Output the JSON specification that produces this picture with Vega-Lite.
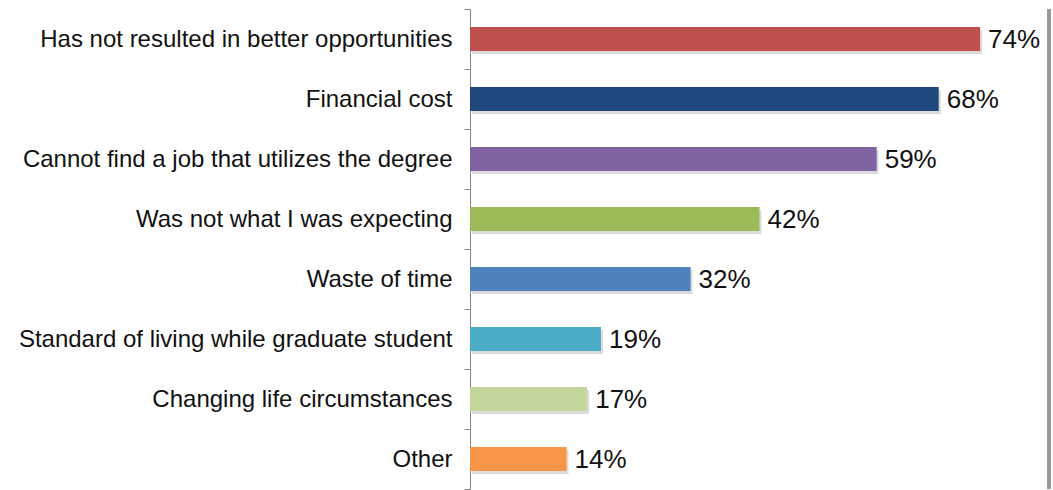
{
  "$schema": "https://vega.github.io/schema/vega-lite/v6.json",
  "autosize": {"type": "none"},
  "padding": {"left": 470, "top": 9, "right": 4, "bottom": 1},
  "width": 579,
  "height": 480,
  "background": "#ffffff",
  "config": {"view": {"stroke": null}},
  "data": {
    "values": [
      {"reason": "Has not resulted in better opportunities", "pct": 0.74},
      {"reason": "Financial cost", "pct": 0.68},
      {"reason": "Cannot find a job that utilizes the degree", "pct": 0.59},
      {"reason": "Was not what I was expecting", "pct": 0.42},
      {"reason": "Waste of time", "pct": 0.32},
      {"reason": "Standard of living while graduate student", "pct": 0.19},
      {"reason": "Changing life circumstances", "pct": 0.17},
      {"reason": "Other", "pct": 0.14}
    ]
  },
  "encoding": {
    "y": {
      "field": "reason",
      "type": "nominal",
      "sort": null,
      "scale": {"paddingInner": 0, "paddingOuter": 0},
      "axis": {
        "title": null,
        "labelFont": "Liberation Sans",
        "labelFontSize": 24,
        "labelColor": "#111111",
        "labelPadding": 12,
        "labelLimit": 0,
        "tickSize": 6,
        "tickColor": "#868686",
        "domainColor": "#868686",
        "tickBand": "extent",
        "domainWidth": 1,
        "tickWidth": 1
      }
    }
  },
  "layer": [
    {
      "mark": {"type": "bar", "color": "#000000", "opacity": 0.14, "xOffset": 2, "yOffset": 3, "height": {"band": 0.4}},
      "encoding": {
        "x": {"field": "pct", "type": "quantitative", "scale": {"domain": [0, 0.84]}, "axis": null}
      }
    },
    {
      "mark": {"type": "bar", "height": {"band": 0.4}},
      "encoding": {
        "x": {"field": "pct", "type": "quantitative", "scale": {"domain": [0, 0.84]}, "axis": null},
        "color": {
          "field": "reason",
          "type": "nominal",
          "legend": null,
          "scale": {
            "domain": ["Has not resulted in better opportunities", "Financial cost", "Cannot find a job that utilizes the degree", "Was not what I was expecting", "Waste of time", "Standard of living while graduate student", "Changing life circumstances", "Other"],
            "range": ["#C0504D", "#1F497D", "#8064A2", "#9BBB59", "#4F81BD", "#4BACC6", "#C3D69B", "#F79646"]
          }
        }
      }
    },
    {
      "mark": {"type": "text", "align": "left", "baseline": "middle", "dx": 8, "dy": 1, "font": "Liberation Sans", "fontSize": 26, "color": "#111111"},
      "encoding": {
        "x": {"field": "pct", "type": "quantitative", "scale": {"domain": [0, 0.84]}, "axis": null},
        "text": {"field": "pct", "type": "quantitative", "format": ".0%"}
      }
    },
    {
      "mark": {"type": "rule", "color": "#999999", "strokeWidth": 3},
      "encoding": {
        "x": {"datum": 0.84, "type": "quantitative", "scale": {"domain": [0, 0.84]}},
        "y": null
      }
    }
  ]
}
